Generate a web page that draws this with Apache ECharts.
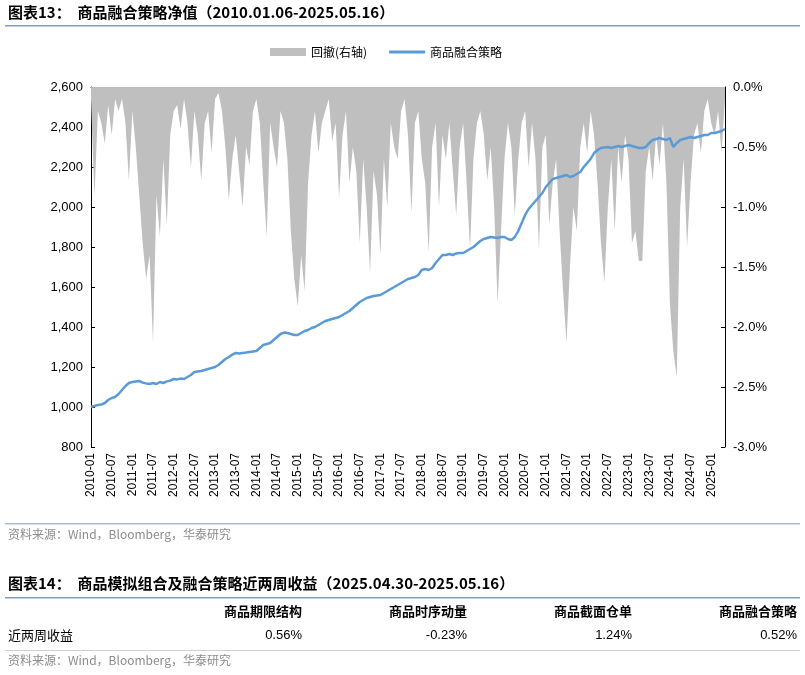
<!DOCTYPE html>
<html>
<head>
<meta charset="utf-8">
<script src="https://cdn.jsdelivr.net/npm/echarts@6/dist/echarts.min.js"></script>
<style>html,body{margin:0;padding:0;background:#fff;}#main{width:805px;height:675px;}</style>
</head>
<body>
<div id="main"></div>
<script>
// monthly points 2010-01 .. 2025-05
var months = [];
for (var y = 2010; y <= 2025; y++) {
    for (var m = 1; m <= 12; m++) {
        if (y === 2025 && m > 5) break;
        months.push(y + '-' + (m < 10 ? '0' + m : m));
    }
}

var navValues = [
    1000,1005,1010,1012,1020,1035,1045,1050,1065,1085,1105,1120,
    1125,1128,1130,1122,1118,1115,1120,1115,1125,1120,1128,1132,
    1140,1138,1142,1140,1150,1160,1175,1178,1180,1185,1190,1195,
    1200,1210,1225,1240,1250,1262,1270,1268,1270,1272,1275,1278,
    1280,1295,1310,1315,1320,1335,1350,1365,1372,1370,1365,1360,
    1360,1370,1380,1385,1395,1400,1410,1420,1430,1435,1440,1445,
    1450,1460,1470,1480,1495,1510,1525,1535,1545,1550,1555,1558,
    1560,1570,1580,1590,1600,1610,1620,1630,1640,1645,1650,1660,
    1685,1690,1685,1695,1720,1740,1760,1760,1765,1760,1768,1770,
    1770,1780,1790,1800,1815,1830,1840,1845,1850,1848,1845,1850,
    1850,1840,1835,1850,1880,1920,1960,1990,2010,2030,2050,2070,
    2100,2120,2140,2145,2150,2155,2160,2150,2155,2165,2175,2200,
    2220,2240,2270,2285,2295,2298,2300,2295,2300,2305,2300,2305,
    2310,2305,2300,2295,2295,2300,2320,2335,2340,2345,2340,2335,
    2345,2300,2320,2335,2340,2345,2350,2345,2350,2355,2360,2360,
    2370,2370,2375,2380,2390
];

var drawdown = [
    -0.10,-0.92,-0.20,-0.30,-0.47,-0.15,-0.40,-0.10,-0.20,-0.10,-0.30,-0.78,
    -0.20,-0.50,-0.90,-1.30,-1.60,-1.40,-2.13,-0.90,-1.25,-0.60,-1.15,-0.40,
    -0.20,-0.15,-0.35,-0.10,-0.30,-0.67,-0.20,-0.40,-0.78,-0.30,-0.20,-0.55,
    -0.10,-0.05,-0.20,-0.50,-0.94,-0.60,-0.40,-0.70,-1.00,-0.50,-0.65,-0.20,
    -0.10,-0.30,-0.80,-1.25,-0.30,-0.50,-0.67,-0.20,-0.30,-0.60,-1.20,-1.60,
    -1.83,-1.40,-1.70,-0.80,-0.40,-0.20,-0.55,-0.30,-0.20,-0.10,-0.45,-0.30,
    -0.92,-0.40,-0.20,-0.80,-0.50,-0.70,-1.30,-0.60,-1.00,-1.55,-0.70,-0.90,
    -1.40,-0.60,-1.00,-0.30,-0.50,-0.60,-0.20,-0.10,-0.40,-1.05,-0.30,-0.20,
    -0.60,-0.80,-1.38,-0.50,-0.30,-1.00,-0.40,-0.60,-0.30,-0.70,-1.07,-0.50,
    -0.30,-0.80,-1.35,-0.60,-0.30,-0.20,-0.40,-0.78,-0.50,-1.00,-1.80,-1.20,
    -0.60,-0.30,-0.50,-1.07,-0.60,-0.30,-0.20,-0.67,-0.30,-0.60,-1.35,-0.50,
    -0.40,-1.15,-0.80,-0.60,-1.20,-1.70,-2.13,-1.50,-1.00,-1.20,-0.50,-0.30,
    -0.55,-0.20,-0.40,-0.80,-1.30,-1.63,-1.00,-0.60,-1.20,-0.50,-0.80,-0.40,
    -0.60,-1.30,-1.20,-1.45,-1.45,-0.70,-0.50,-0.78,-0.40,-0.65,-0.30,-0.80,
    -1.80,-2.20,-2.42,-1.00,-0.60,-1.33,-0.80,-0.40,-0.30,-0.55,-0.20,-0.10,
    -0.30,-0.40,-0.20,-0.55,-0.10
];

var tableHeads = ['商品期限结构', '商品时序动量', '商品截面仓单', '商品融合策略'];
var tableRowName = '近两周收益';
var tableValues = ['0.56%', '-0.23%', '1.24%', '0.52%'];

var cjk = 'Noto Sans CJK SC';
var colRight = [302, 467, 632, 797];

var graphics = [
    {type: 'text', left: 8, top: 5, style: {text: '图表13：  商品融合策略净值（2010.01.06-2025.05.16）', font: 'bold 15px "Noto Sans CJK SC"', fill: '#000'}},
    {type: 'rect', shape: {x: 5, y: 25, width: 795, height: 1.5}, style: {fill: '#7f9cc4'}},
    {type: 'rect', shape: {x: 5, y: 523, width: 795, height: 1.5}, style: {fill: '#a8bcd8'}},
    {type: 'text', left: 8, top: 528, style: {text: '资料来源：Wind，Bloomberg，华泰研究', font: '12px "Noto Sans CJK SC"', fill: '#8c8c8c'}},
    {type: 'text', left: 8, top: 576, style: {text: '图表14：  商品模拟组合及融合策略近两周收益（2025.04.30-2025.05.16）', font: 'bold 15px "Noto Sans CJK SC"', fill: '#000'}},
    {type: 'rect', shape: {x: 5, y: 597, width: 795, height: 1.5}, style: {fill: '#7f9cc4'}},
    {type: 'text', left: 8, top: 629, style: {text: tableRowName, font: '13px "Noto Sans CJK SC"', fill: '#000'}},
    {type: 'rect', shape: {x: 5, y: 650, width: 795, height: 1}, style: {fill: '#d0d0d0'}},
    {type: 'text', left: 8, top: 654, style: {text: '资料来源：Wind，Bloomberg，华泰研究', font: '12px "Noto Sans CJK SC"', fill: '#8c8c8c'}}
];
tableHeads.forEach(function (h, i) {
    graphics.push({type: 'text', x: colRight[i], y: 605, style: {text: h, font: 'bold 13px "Noto Sans CJK SC"', fill: '#000', align: 'right'}});
    graphics.push({type: 'text', x: colRight[i], y: 629, style: {text: tableValues[i], font: '13px "Liberation Sans"', fill: '#000', align: 'right'}});
});

var chart = echarts.init(document.getElementById('main'));
chart.setOption({
    animation: false,
    textStyle: {fontFamily: 'Liberation Sans'},
    legend: {
        top: 41, left: 265, itemGap: 22, itemWidth: 36, itemHeight: 8,
        textStyle: {fontFamily: cjk, fontSize: 12, color: '#000'},
        data: [
            {name: '回撤(右轴)', icon: 'rect'},
            {name: '商品融合策略', icon: 'path://M0,0 L36,0 L36,3 L0,3 Z'}
        ]
    },
    grid: {left: 91, right: 80, top: 87, bottom: 228},
    xAxis: {
        type: 'category', data: months, boundaryGap: false,
        axisLine: {lineStyle: {color: '#000'}},
        axisTick: {interval: 5, length: 4, lineStyle: {color: '#000'}},
        axisLabel: {interval: 5, rotate: 90, color: '#000', fontSize: 12, margin: 6}
    },
    yAxis: [
        {
            type: 'value', min: 800, max: 2600, interval: 200,
            axisLine: {show: true, lineStyle: {color: '#000'}},
            axisTick: {show: true, inside: true, length: 4, lineStyle: {color: '#000'}},
            splitLine: {show: false},
            axisLabel: {color: '#000', fontSize: 13, formatter: function (v) { return v.toLocaleString('en-US'); }}
        },
        {
            type: 'value', min: -3, max: 0, interval: 0.5, position: 'right',
            axisLine: {show: true, lineStyle: {color: '#000'}},
            axisTick: {show: true, inside: true, length: 4, lineStyle: {color: '#000'}},
            splitLine: {show: false},
            axisLabel: {color: '#000', fontSize: 13, formatter: function (v) { return v.toFixed(1) + '%'; }}
        }
    ],
    series: [
        {
            name: '回撤(右轴)', type: 'line', yAxisIndex: 1, data: drawdown,
            symbol: 'none', color: '#bfbfbf',
            lineStyle: {width: 0},
            areaStyle: {color: '#bfbfbf', opacity: 1, origin: 'end'}
        },
        {
            name: '商品融合策略', type: 'line', yAxisIndex: 0, data: navValues,
            symbol: 'none', color: '#5b9bd5',
            lineStyle: {width: 2.5, color: '#5b9bd5'}
        }
    ],
    graphic: graphics
});
</script>
</body>
</html>
